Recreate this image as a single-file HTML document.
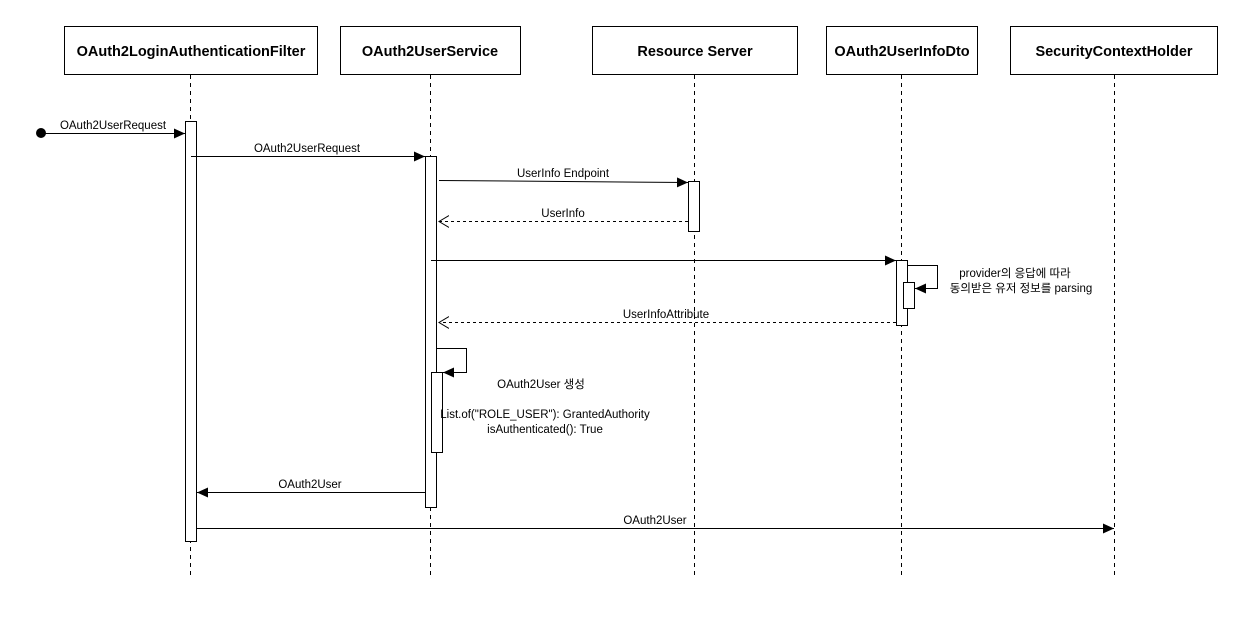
<!DOCTYPE html>
<html><head><meta charset="utf-8"><style>
html,body{margin:0;padding:0;background:#fff;}
svg{display:block;}
text{font-family:"Liberation Sans","Noto Sans CJK KR",sans-serif;font-size:11.5px;fill:#000;}
.h{font-weight:bold;font-size:14.5px;}
</style></head><body>
<svg width="1259" height="617" viewBox="0 0 1259 617" xmlns="http://www.w3.org/2000/svg">
<defs>
<marker id="a" markerWidth="12" markerHeight="10" refX="11" refY="5" orient="auto" markerUnits="userSpaceOnUse"><path d="M0,0 L11,5 L0,10 Z" fill="#000"/></marker>
<marker id="o" markerWidth="12" markerHeight="14" refX="10" refY="7" orient="auto" markerUnits="userSpaceOnUse"><path d="M0,1 L10,7 L0,13" fill="none" stroke="#000"/></marker>
</defs>
<g fill="#fff" stroke="#000" stroke-width="1">
<rect x="64.5" y="26.5" width="253" height="48"/>
<rect x="340.5" y="26.5" width="180" height="48"/>
<rect x="592.5" y="26.5" width="205" height="48"/>
<rect x="826.5" y="26.5" width="151" height="48"/>
<rect x="1010.5" y="26.5" width="207" height="48"/>
</g>
<text class="h" x="191" y="56" text-anchor="middle">OAuth2LoginAuthenticationFilter</text>
<text class="h" x="430" y="56" text-anchor="middle">OAuth2UserService</text>
<text class="h" x="695" y="56" text-anchor="middle">Resource Server</text>
<text class="h" x="902" y="56" text-anchor="middle">OAuth2UserInfoDto</text>
<text class="h" x="1114" y="56" text-anchor="middle">SecurityContextHolder</text>
<g stroke="#000" stroke-dasharray="4,4">
<line x1="190.5" y1="75" x2="190.5" y2="577"/>
<line x1="430.5" y1="75" x2="430.5" y2="577"/>
<line x1="694.5" y1="75" x2="694.5" y2="577"/>
<line x1="901.5" y1="75" x2="901.5" y2="577"/>
<line x1="1114.5" y1="75" x2="1114.5" y2="577"/>
</g>
<g fill="#fff" stroke="#000">
<rect x="185.5" y="121.5" width="11" height="420"/>
<rect x="425.5" y="156.5" width="11" height="351"/>
<rect x="688.5" y="181.5" width="11" height="50"/>
<rect x="896.5" y="260.5" width="11" height="65"/>
<rect x="903.5" y="282.5" width="11" height="26"/>
<rect x="431.5" y="372.5" width="11" height="80"/>
</g>
<circle cx="41" cy="133" r="5" fill="#000"/>
<g stroke="#000" fill="none">
<line x1="41" y1="133.5" x2="185" y2="133.5" marker-end="url(#a)"/>
<line x1="191" y1="156.5" x2="425" y2="156.5" marker-end="url(#a)"/>
<line x1="439" y1="180.5" x2="688" y2="182.5" marker-end="url(#a)"/>
<line x1="688" y1="221.5" x2="439" y2="221.5" stroke-dasharray="3,3" marker-end="url(#o)"/>
<line x1="431" y1="260.5" x2="896" y2="260.5" marker-end="url(#a)"/>
<polyline points="908,265.5 937.5,265.5 937.5,288.5 915,288.5" marker-end="url(#a)"/>
<line x1="896" y1="322.5" x2="439" y2="322.5" stroke-dasharray="3,3" marker-end="url(#o)"/>
<polyline points="437,348.5 466.5,348.5 466.5,372.5 443,372.5" marker-end="url(#a)"/>
<line x1="425" y1="492.5" x2="197" y2="492.5" marker-end="url(#a)"/>
<line x1="197" y1="528.5" x2="1114" y2="528.5" marker-end="url(#a)"/>
</g>
<text x="113" y="129" text-anchor="middle">OAuth2UserRequest</text>
<text x="307" y="152" text-anchor="middle">OAuth2UserRequest</text>
<text x="563" y="177" text-anchor="middle">UserInfo Endpoint</text>
<text x="563" y="217" text-anchor="middle">UserInfo</text>
<text x="666" y="318" text-anchor="middle">UserInfoAttribute</text>
<text x="1015" y="277" text-anchor="middle">provider의 응답에 따라</text>
<text x="1021" y="292" text-anchor="middle">동의받은 유저 정보를 parsing</text>
<text x="541" y="388" text-anchor="middle">OAuth2User 생성</text>
<text x="545" y="418" text-anchor="middle">List.of("ROLE_USER"): GrantedAuthority</text>
<text x="545" y="433" text-anchor="middle">isAuthenticated(): True</text>
<text x="310" y="488" text-anchor="middle">OAuth2User</text>
<text x="655" y="524" text-anchor="middle">OAuth2User</text>
</svg>
</body></html>
